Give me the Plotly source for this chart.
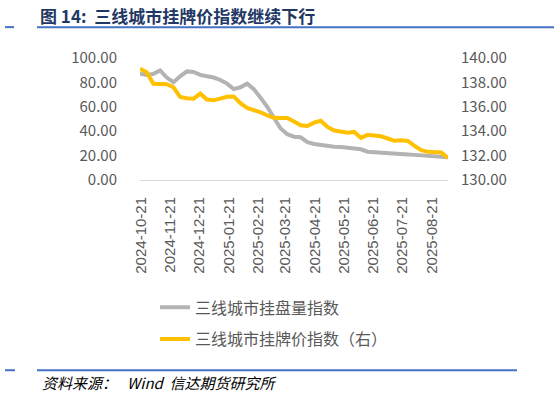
import pandas as pd
import plotly.graph_objects as go

# weekly observation dates
dates = pd.date_range("2024-10-20", periods=47, freq="7D")

listing_volume_index = [
    87.1, 86.0, 87.0, 89.8, 84.0, 80.2, 85.0, 89.0, 88.5, 86.2,
    85.0, 84.0, 82.0, 79.0, 74.5, 76.0, 79.0, 74.5, 67.5, 60.0,
    51.0, 42.2, 37.5, 35.5, 35.0, 31.0, 29.5, 28.8, 27.5, 27.2,
    27.0, 26.5, 25.5, 25.2, 23.2, 22.7, 22.3, 21.8, 21.6, 21.4,
    21.0, 20.6, 20.3, 20.0, 19.7, 19.3, 18.7,
]
listing_price_index = [
    139.12, 138.84, 137.89, 137.85, 137.85, 137.60, 136.80, 136.70, 136.67, 137.08,
    136.60, 136.53, 136.65, 136.82, 136.85, 136.30, 135.90, 135.75, 135.55, 135.30,
    135.10, 135.09, 135.09, 134.80, 134.48, 134.43, 134.70, 134.85, 134.35, 134.05,
    133.95, 133.87, 133.94, 133.45, 133.70, 133.65, 133.58, 133.40, 133.21, 133.25,
    133.20, 132.80, 132.45, 132.31, 132.31, 132.25, 131.80,
]
tick_dates = [
    "2024-10-21", "2024-11-21", "2024-12-21", "2025-01-21", "2025-02-21", "2025-03-21",
    "2025-04-21", "2025-05-21", "2025-06-21", "2025-07-21", "2025-08-21",
]
name_volume = "三线城市挂盘量指数"
name_price = "三线城市挂牌价指数（右）"
title_text = "图 14:  三线城市挂牌价指数继续下行"
source_text = "资料来源：   Wind  信达期货研究所"

FONT = "Noto Sans CJK SC"
W, H = 554, 397
L, R, T, B = 140, 448, 57.5, 180

fig = go.Figure()
fig.add_trace(go.Scatter(x=dates, y=listing_volume_index, name=name_volume, mode="lines",
                         legendgroup="a",
                         line=dict(color="#b3b3b3", width=4), yaxis="y"))
fig.add_trace(go.Scatter(x=dates, y=listing_price_index, name=name_price, mode="lines",
                         legendgroup="b",
                         line=dict(color="#ffc000", width=4), yaxis="y2"))

def py(y):
    return (B - y) / (B - T)

def px(x):
    return (x - L) / (R - L)

fig.update_layout(
    width=W, height=H,
    margin=dict(l=L, r=W - R, t=T, b=H - B),
    paper_bgcolor="white", plot_bgcolor="white",
    font=dict(family=FONT, color="#595959", size=13),
    showlegend=True,
    legend=dict(orientation="v", x=px(155), y=py(324),
                xanchor="left", yanchor="middle",
                font=dict(size=16, color="#595959"), tracegroupgap=8,
                bgcolor="rgba(0,0,0,0)"),
    xaxis=dict(type="date", range=["2024-10-20", "2025-09-07"],
               tickvals=tick_dates, ticktext=tick_dates, tickangle=-90,
               showgrid=False, showline=True, linecolor="#d9d9d9", linewidth=1,
               ticks="", ticklabelstandoff=10,
               tickfont=dict(size=15, color="#595959", family="Liberation Sans")),
    yaxis=dict(range=[0, 100], dtick=20, tickformat=".2f", showgrid=False,
               zeroline=False, ticks="", ticklabelstandoff=22,
               tickfont=dict(size=15, color="#595959")),
    yaxis2=dict(range=[130, 140], dtick=2, tickformat=".2f", overlaying="y", side="right",
                showgrid=False, zeroline=False, ticks="", ticklabelstandoff=12,
                tickfont=dict(size=15, color="#595959")),
)

# title and footer
fig.add_annotation(text="<b>" + title_text + "</b>", xref="paper", yref="paper",
                   x=px(38), y=py(14.5),
                   xanchor="left", yanchor="middle", showarrow=False,
                   font=dict(size=17, color="#1f3864", family=FONT))
fig.add_annotation(text="<i>" + source_text + "</i>", xref="paper", yref="paper",
                   x=px(40), y=py(383),
                   xanchor="left", yanchor="middle", showarrow=False,
                   font=dict(size=15, color="#000000", family=FONT))

def hline(x0, x1, y):
    fig.add_shape(type="line", xref="paper", yref="paper",
                  x0=px(x0), x1=px(x1), y0=py(y), y1=py(y),
                  line=dict(color="#4472c4", width=2))

hline(5, 14, 26.5)
hline(37, 554, 26.5)
hline(5, 15, 371)
hline(37, 517, 371)

fig.write_html("out.html", config={"displayModeBar": False},
               post_script="document.body.style.margin='0';")
